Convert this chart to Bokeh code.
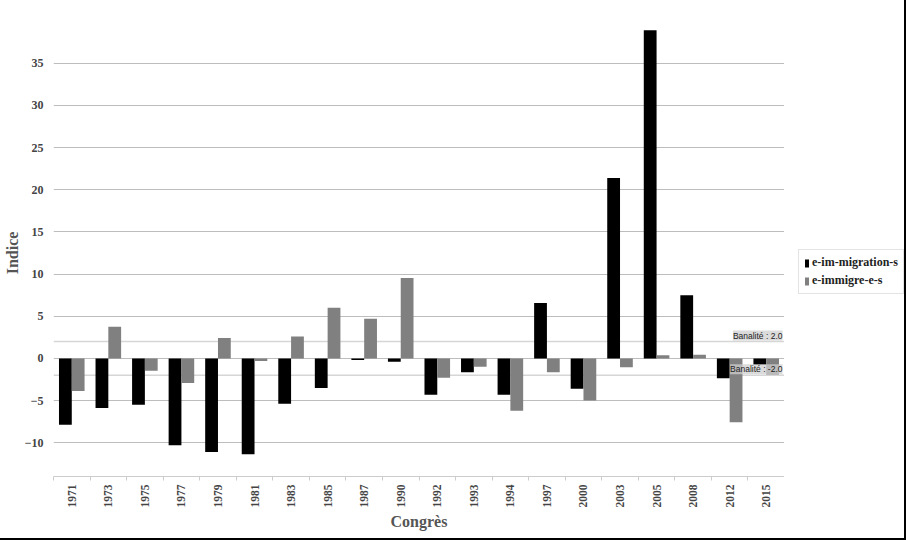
import numpy as np
from bokeh.plotting import figure
from bokeh.layouts import row
from bokeh.models import (ColumnDataSource, FixedTicker, Legend, LegendItem, Span, Label, Range1d)
from bokeh.embed import file_html
from bokeh.resources import INLINE

congres = ["1971", "1973", "1975", "1977", "1979", "1981", "1983", "1985", "1987", "1990",
           "1992", "1993", "1994", "1997", "2000", "2003", "2005", "2008", "2012", "2015"]
im_migration = [-7.85, -5.87, -5.5, -10.3, -11.1, -11.37, -5.36, -3.5, -0.2, -0.38,
                -4.3, -1.65, -4.3, 6.57, -3.6, 21.4, 38.9, 7.5, -2.35, -0.75]
immigre = [-3.86, 3.77, -1.45, -2.9, 2.42, -0.3, 2.6, 6.0, 4.7, 9.55,
           -2.3, -1.0, -6.2, -1.65, -5.0, -1.06, 0.38, 0.45, -7.56, -1.9]
series_names = ["e-im-migration-s", "e-immigre-e-s"]
series_colors = ["black", "#808080"]
banalite = [2.0, -2.0]
y_ticks = [-10, -5, 0, 5, 10, 15, 20, 25, 30, 35]

serif = "Liberation Serif"
n = len(congres)
centers = [i + 0.5 for i in range(n)]
bounds = [float(i) for i in range(n + 1)]
bw = 0.35

src = ColumnDataSource(dict(x1=[c - bw / 2 for c in centers], x2=[c + bw / 2 for c in centers],
                            a=im_migration, b=immigre))

p = figure(width=784, height=540, output_backend="svg", toolbar_location=None,
           x_range=Range1d(0, n), y_range=Range1d(-14, 39),
           min_border_left=53, min_border_right=0, min_border_top=29, min_border_bottom=64)
p.outline_line_color = None
p.background_fill_color = "white"
p.border_fill_color = "white"

for v in banalite:
    p.add_layout(Span(location=v, dimension="width", line_color="#d6d6d6", line_width=1.5,
                      level="underlay"))

p.vbar(x="x1", top="a", bottom=0, width=bw, source=src, fill_color=series_colors[0], line_color=None)
p.vbar(x="x2", top="b", bottom=0, width=bw, source=src, fill_color=series_colors[1], line_color=None)

for v in banalite:
    p.add_layout(Label(x=n, y=v, text=f"Banalité : {v:.1f}", text_align="right", text_baseline="bottom",
                       x_offset=-2, y_offset=1, text_font="Liberation Sans Narrow, Liberation Sans",
                       text_font_size="8.5px",
                       text_color="#222222", background_fill_color="#cfcfcf", background_fill_alpha=0.75))

# x axis
p.xaxis.ticker = FixedTicker(ticks=centers, minor_ticks=bounds)
p.xaxis.major_label_overrides = {c: lab for c, lab in zip(centers, congres)}
p.xaxis.major_label_orientation = np.pi / 2
p.xaxis.major_tick_line_color = None
p.xaxis.minor_tick_line_color = "#cccccc"
p.xaxis.minor_tick_out = 4
p.xaxis.minor_tick_in = 0
p.xaxis.axis_line_color = "#cccccc"
p.xaxis.major_label_text_font = serif
p.xaxis.major_label_text_font_style = "bold"
p.xaxis.major_label_text_font_size = "11.5px"
p.xaxis.major_label_text_color = "#444444"
p.xaxis.major_label_standoff = 2
p.xaxis.axis_label = "Congrès"
p.xaxis.axis_label_text_font = serif
p.xaxis.axis_label_text_font_style = "bold"
p.xaxis.axis_label_text_font_size = "16px"
p.xaxis.axis_label_text_color = "#555555"
p.xaxis.axis_label_standoff = 2

# y axis
p.yaxis.ticker = FixedTicker(ticks=y_ticks)
p.yaxis.axis_line_color = None
p.yaxis.major_tick_line_color = None
p.yaxis.minor_tick_line_color = None
p.yaxis.major_label_text_font = serif
p.yaxis.major_label_text_font_style = "bold"
p.yaxis.major_label_text_font_size = "12px"
p.yaxis.major_label_text_color = "#444444"
p.yaxis.major_label_standoff = 4
p.yaxis.axis_label = "Indice"
p.yaxis.axis_label_text_font = serif
p.yaxis.axis_label_text_font_style = "bold"
p.yaxis.axis_label_text_font_size = "16px"
p.yaxis.axis_label_text_color = "#555555"
p.yaxis.axis_label_standoff = 1

p.xgrid.grid_line_color = None
p.ygrid.grid_line_color = "#bdbdbd"
p.ygrid.ticker = FixedTicker(ticks=y_ticks)

# legend panel
p2 = figure(width=122, height=540, output_backend="svg", toolbar_location=None,
            x_axis_location=None, y_axis_location=None,
            x_range=Range1d(0, 1), y_range=Range1d(0, 1),
            min_border_left=0, min_border_right=0, min_border_top=0, min_border_bottom=0)
p2.outline_line_color = None
p2.grid.grid_line_color = None
items = []
for name, col in zip(series_names, series_colors):
    r = p2.vbar(x=[0], top=[0], bottom=0, width=0, fill_color=col, line_color=None)
    items.append(LegendItem(label=name, renderers=[r]))

legend = Legend(items=items, location=(14, 182))
legend.label_text_font = serif
legend.label_text_font_style = "bold"
legend.label_text_font_size = "12px"
legend.label_text_color = "#222222"
legend.glyph_width = 5
legend.glyph_height = 10
legend.label_standoff = 3
legend.spacing = 3
legend.padding = 5
legend.margin = 0
legend.label_height = 14
legend.border_line_color = "#c8c8c8"
legend.background_fill_alpha = 1
p2.add_layout(legend)

p.styles = {"border-bottom": "2px solid black"}
p2.styles = {"border-right": "2px solid black", "border-bottom": "2px solid black"}

open("out.html", "w").write(file_html(row(p, p2), INLINE))
